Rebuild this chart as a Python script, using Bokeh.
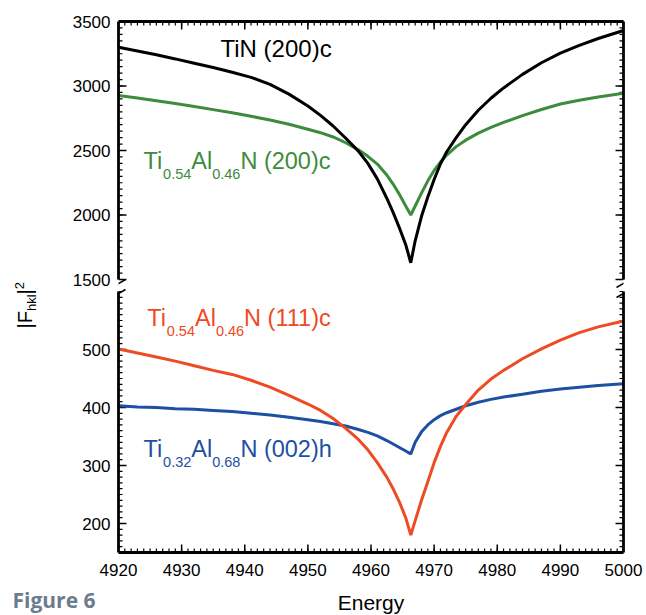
import math
from bokeh.plotting import figure
from bokeh.models import Range1d, LinearAxis, FixedTicker, Label
from bokeh.layouts import column, row
from bokeh.embed import file_html
from bokeh.resources import INLINE

# ---------------- data ----------------
energy = [4920, 4923, 4926, 4929, 4932, 4935, 4938, 4941, 4944, 4947, 4950, 4952,
          4954, 4956, 4958, 4959.5, 4961, 4962.5, 4963.5, 4964.5, 4965.5, 4966.3,
          4967, 4968, 4969, 4970, 4971, 4972, 4973.5, 4975, 4977, 4979, 4981,
          4984, 4987, 4990, 4993, 4996, 5000]
tin_200c = [3300, 3272, 3242, 3210, 3177, 3143, 3107, 3067, 3013, 2937, 2845, 2772,
            2690, 2595, 2495, 2400, 2280, 2130, 2020, 1900, 1770, 1630,
            1800, 1990, 2140, 2275, 2395, 2490, 2600, 2700, 2812, 2905, 2985,
            3090, 3180, 3255, 3315, 3368, 3430]
tialn054_200c = [2926, 2907, 2886, 2864, 2841, 2817, 2792, 2765, 2736, 2703, 2665, 2638,
                 2605, 2560, 2505, 2455, 2395, 2310, 2240, 2160, 2070, 2000,
                 2070, 2170, 2265, 2345, 2410, 2465, 2530, 2580, 2635, 2680, 2718,
                 2770, 2818, 2860, 2890, 2915, 2944]
tialn054_111c = [501, 494, 487, 480, 472, 464, 457, 447, 435, 421, 406, 395,
                 381, 364, 345, 327, 305, 280, 260, 237, 210, 180,
                 205, 240, 272, 305, 333, 357, 385, 405, 430, 449, 464,
                 484, 501, 516, 529, 539, 549]
tialn032_002h = [403, 401, 400, 398, 397, 395, 393, 390, 387, 383, 379, 376,
                 372, 368, 362, 357, 351, 343, 337, 331, 325, 320,
                 340, 358, 370, 379, 386, 391, 397, 403, 409, 414, 418,
                 423, 428, 432, 435, 438, 441]

x_ticks = [4920, 4930, 4940, 4950, 4960, 4970, 4980, 4990, 5000]
x_minor = list(range(4920, 5001, 1))
top_ticks = [1500, 2000, 2500, 3000, 3500]
top_minor = list(range(1500, 3501, 50))
bot_ticks = [200, 300, 400, 500]
bot_minor = list(range(160, 601, 10))

# ---------------- style / layout ----------------
FONT = "Liberation Sans"
BLACK, GREEN, RED, BLUE = "#000000", "#3d8b3d", "#ee4a24", "#1d4fa3"
PAGE_W, PAGE_H = 646, 615
STRIP = 44                 # left strip holding the y title
XL, XR = 118, 623          # frame left/right (page px)
TT, TB = 21, 279           # top panel: 3500 at TT, 1500 at TB
BT, BB = 291, 552          # bottom panel: 600 at BT, 150 at BB
SPLIT = 288                # boundary between the two panels (page px)
MAIN_H = 586               # bottom of the x tick-label area
X0, X1 = 4920, 5000
T0, T1 = 1500, 3500
B0, B1 = 150, 600
K = 0.39                   # label anchor correction (fraction of font size)


def ex(px):
    return X0 + (px - XL) * (X1 - X0) / (XR - XL)


def ty(py):
    return T1 - (py - TT) * (T1 - T0) / (TB - TT)


def by(py):
    return B1 - (py - BT) * (B1 - B0) / (BB - BT)


def style_axis(ax, ticks, minor, labels=True):
    ax.ticker = FixedTicker(ticks=ticks, minor_ticks=minor)
    ax.axis_line_width = 2.8
    ax.axis_line_color = "black"
    ax.major_tick_in = 0
    ax.major_tick_out = 0
    ax.minor_tick_in = 0
    ax.minor_tick_out = 0
    ax.major_tick_line_color = None
    ax.minor_tick_line_color = None
    ax.major_label_text_font = FONT
    if labels:
        ax.major_label_text_font_size = "17px"
        ax.major_label_text_color = "black"
    else:
        ax.major_label_text_font_size = "1px"
        ax.major_label_text_color = None
        ax.major_label_standoff = 0


def make_fig(width, height, xr, yr, left, right, top, bottom):
    p = figure(width=width, height=height, x_range=xr, y_range=yr, title=None,
               output_backend="svg", toolbar_location=None,
               x_axis_location=None, y_axis_location=None,
               min_border_left=left, min_border_right=right,
               min_border_top=top, min_border_bottom=bottom)
    p.outline_line_color = None
    p.xgrid.visible = False
    p.ygrid.visible = False
    p.background_fill_color = "white"
    p.border_fill_color = "white"
    return p


main_w = PAGE_W - STRIP
# top panel: frame extends down to SPLIT so the break marks can be drawn
p1 = make_fig(main_w, SPLIT, Range1d(X0, X1), Range1d(ty(SPLIT), T1),
              XL - STRIP, PAGE_W - XR, TT, 0)
# bottom panel: frame starts at SPLIT
p2 = make_fig(main_w, MAIN_H - SPLIT, Range1d(X0, X1), Range1d(B0, by(SPLIT)),
              XL - STRIP, PAGE_W - XR, 0, MAIN_H - BB)

# axes (lines + labels); inward ticks are drawn below as rays
a = LinearAxis(bounds=(T0, T1)); style_axis(a, top_ticks, top_minor); a.major_label_standoff = 8
p1.add_layout(a, "left")
a = LinearAxis(bounds=(T0, T1)); style_axis(a, top_ticks, top_minor, False)
p1.add_layout(a, "right")
a = LinearAxis(); style_axis(a, x_ticks, x_minor, False)
p1.add_layout(a, "above")

a = LinearAxis(bounds=(B0, B1)); style_axis(a, bot_ticks, bot_minor); a.major_label_standoff = 8
p2.add_layout(a, "left")
a = LinearAxis(bounds=(B0, B1)); style_axis(a, bot_ticks, bot_minor, False)
p2.add_layout(a, "right")
a = LinearAxis(); style_axis(a, x_ticks, x_minor); a.major_label_standoff = 11
p2.add_layout(a, "below")


def inward_ticks(p, xs, ys, angle, length, width):
    p.ray(x=xs, y=ys, length=length, angle=angle, length_units="screen",
          line_color="black", line_width=width)


for p, yt, ym in ((p1, top_ticks, top_minor), (p2, bot_ticks, bot_minor)):
    inward_ticks(p, [X0] * len(yt), yt, 0, 8, 1.5)
    inward_ticks(p, [X0] * len(ym), ym, 0, 4, 1.2)
    inward_ticks(p, [X1] * len(yt), yt, math.pi, 8, 1.5)
    inward_ticks(p, [X1] * len(ym), ym, math.pi, 4, 1.2)
inward_ticks(p1, x_ticks, [T1] * len(x_ticks), -math.pi / 2, 8, 1.5)
inward_ticks(p1, x_minor, [T1] * len(x_minor), -math.pi / 2, 4, 1.2)
inward_ticks(p2, x_ticks, [B0] * len(x_ticks), math.pi / 2, 8, 1.5)
inward_ticks(p2, x_minor, [B0] * len(x_minor), math.pi / 2, 4, 1.2)

# axis-break marks
for xp in (XL, XR):
    p1.segment(x0=ex(xp - 7), y0=ty(283 + 4), x1=ex(xp + 7), y1=ty(283 - 4),
               line_color="black", line_width=1.5)
    p2.segment(x0=ex(xp - 7), y0=by(293 + 4), x1=ex(xp + 7), y1=by(293 - 4),
               line_color="black", line_width=1.5)

# curves
p1.line(energy, tialn054_200c, line_color=GREEN, line_width=3)
p1.line(energy, tin_200c, line_color=BLACK, line_width=3)
p2.line(energy, tialn032_002h, line_color=BLUE, line_width=3)
p2.line(energy, tialn054_111c, line_color=RED, line_width=3)

# ---------------- text ----------------
CW = {'T': .611, 'i': .222, 'N': .722, ' ': .278, '(': .333, ')': .333, 'c': .5,
      'A': .667, 'l': .222, 'h': .556, 'k': .5, '.': .278, '|': .26, 'F': .611}
for d in "0123456789":
    CW[d] = .556


def tw(s, fs):
    return sum(CW[ch] for ch in s) * fs


def formula(p, yconv, parts, x_px, base_py, color, size=23.5, sub=14.5, drop=9.5):
    x = x_px
    for text, is_sub in parts:
        fs = sub if is_sub else size
        py = base_py + (drop if is_sub else 0) - K * fs
        p.add_layout(Label(x=ex(x), y=yconv(py), text=text, text_font=FONT,
                           text_font_size=f"{fs}px", text_color=color,
                           text_align="left", text_baseline="alphabetic"))
        x += tw(text, fs)


formula(p1, ty, [("TiN (200)c", 0)], 220, 57, BLACK, size=24)
formula(p1, ty, [("Ti", 0), ("0.54", 1), ("Al", 0), ("0.46", 1), ("N (200)c", 0)],
        143, 170, GREEN)
formula(p2, by, [("Ti", 0), ("0.54", 1), ("Al", 0), ("0.46", 1), ("N (111)c", 0)],
        146.7, 326.7, RED)
formula(p2, by, [("Ti", 0), ("0.32", 1), ("Al", 0), ("0.68", 1), ("N (002)h", 0)],
        143, 458, BLUE)

# left strip with the rotated y title |F_hkl|^2 (coordinates = page pixels)
strip = make_fig(STRIP, MAIN_H, Range1d(0, STRIP), Range1d(MAIN_H, 0), 0, 0, 0, 0)
ylab_parts = [("|F", 20, 0), ("hkl", 13, 4), ("|", 20, 0), ("2", 13, -8)]
base_x, py = 32, 328
for text, fs, off in ylab_parts:
    strip.add_layout(Label(x=base_x + off - K * fs, y=py, text=text, angle=math.pi / 2,
                           text_font=FONT, text_font_size=f"{fs}px", text_color="black",
                           text_align="left", text_baseline="alphabetic"))
    py -= tw(text, fs)

# bottom strip with the x title and the figure caption (coordinates = page pixels)
foot = make_fig(PAGE_W, PAGE_H - MAIN_H, Range1d(0, PAGE_W), Range1d(PAGE_H, MAIN_H),
                0, 0, 0, 0)
foot.add_layout(Label(x=(XL + XR) / 2, y=610 - K * 21, text="Energy", text_font=FONT,
                      text_font_size="21px", text_color="black",
                      text_align="center", text_baseline="alphabetic"))
foot.add_layout(Label(x=12, y=608 - K * 21, text="Figure 6", text_font="Open Sans",
                      text_font_style="bold", text_font_size="21px",
                      text_color="#6b7c8d", text_align="left",
                      text_baseline="alphabetic"))

layout = column(row(strip, column(p1, p2)), foot)
open("out.html", "w").write(file_html(layout, INLINE, title="Figure 6"))
